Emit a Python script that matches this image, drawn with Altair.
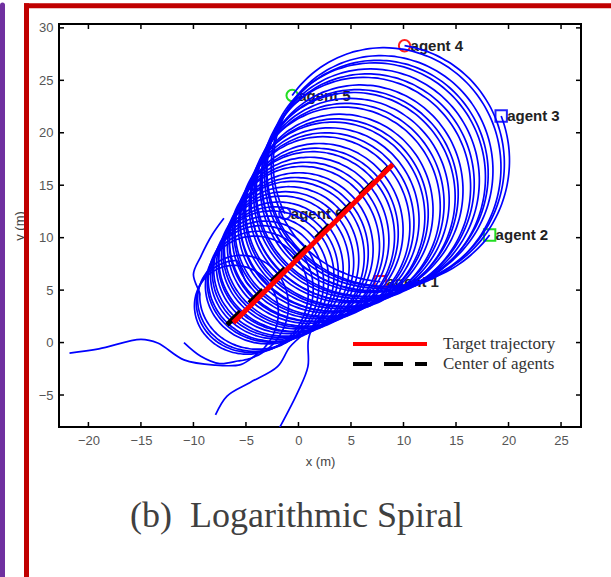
import altair as alt
import numpy as np
import pandas as pd

# ---------------- values ----------------
x_ticks = [-20, -15, -10, -5, 0, 5, 10, 15, 20, 25]
y_ticks = [-5, 0, 5, 10, 15, 20, 25, 30]
x_domain = [-22.8, 26.9]
y_domain = [-8.05, 30.37]

# target trajectory and centre of agents (straight segments)
target_x = [-6.2, 9.0]
target_y = [1.9, 17.0]
centre_x = [-6.8, 8.6]
centre_y = [1.7, 16.7]
series_names = ["Target trajectory", "Center of agents"]

# agents' final positions (markers)
agent_names = ["agent 1", "agent 2", "agent 3", "agent 4", "agent 5", "agent 6"]
agent_x = [7.8, 18.2, 19.3, 10.1, -0.6, -1.3]
agent_y = [5.8, 10.25, 21.6, 28.3, 23.55, 12.3]
agent_shape = ["square", "square", "square", "circle", "circle", "circle"]
agent_colour = ["#ff2020", "#22dd22", "#2222ff", "#ff2020", "#22dd22", "#2222ff"]

# formation (circle) centre at start / end, start radius, revolutions
formation_start = [-6.7, 1.9]
formation_end = [8.9, 17.0]
radius_start = 4.0
revolutions = 8

# transient paths (way-points)
path_x = [
    [-21.8, -19.0, -15.0, -13.4, -10.9, -8.0, -5.5],
    [-7.9, -6.8, -4.6, -2.0, -0.8],
    [-1.9, -0.1, 0.9, 0.95],
    [-7.1, -8.2, -9.3, -10.0],
    [-10.9, -9.3, -7.5],
    [-4.5, -5.0],
]
path_y = [
    [-1.0, -0.6, 0.3, -0.05, -1.65, -2.15, -2.1],
    [-6.9, -5.1, -3.8, -2.3, -0.4],
    [-8.3, -4.8, -2.3, 0.3],
    [11.85, 10.3, 8.2, 6.5],
    [0.0, -1.3, -2.0],
    [5.2, 5.8],
]

# ---------------- build trajectories ----------------
rows = []
t = np.linspace(0.0, 1.0, revolutions * 110 + 1)
for k in range(len(agent_names)):
    ex, ey = formation_end
    sx, sy = formation_start
    dx, dy = agent_x[k] - ex, agent_y[k] - ey
    r_end = np.hypot(dx, dy)
    th_end = np.arctan2(dy, dx)
    cx = sx + (ex - sx) * t
    cy = sy + (ey - sy) * t
    rr = radius_start + (r_end - radius_start) * t
    ang = th_end - 2 * np.pi * revolutions * (1 - t)
    ox = cx + rr * np.cos(ang)
    oy = cy + rr * np.sin(ang)
    px, py = path_x[k], path_y[k]
    lim = int(len(t) * 0.25)
    vx, vy = px[-1] - px[-2], py[-1] - py[-2]
    tx, ty = np.gradient(ox), np.gradient(oy)
    d = np.hypot(ox[:lim] - px[-1], oy[:lim] - py[-1])
    ok = (tx[:lim] * vx + ty[:lim] * vy) > 0
    d = np.where(ok, d, 1e9)
    j = int(np.argmin(d)) + 6
    xs = list(px) + list(ox[j:])
    ys = list(py) + list(oy[j:])
    for i, (a, b) in enumerate(zip(xs, ys)):
        rows.append({"agent": agent_names[k], "i": i, "x": a, "y": b})
traj = pd.DataFrame(rows)

lines_df = pd.DataFrame({
    "series": [series_names[0]] * 2 + [series_names[1]] * 2,
    "x": target_x + centre_x,
    "y": target_y + centre_y,
})
agents_df = pd.DataFrame({"agent": agent_names, "x": agent_x, "y": agent_y,
                          "shape": agent_shape, "colour": agent_colour})
xt_df = pd.DataFrame({"v": x_ticks})
yt_df = pd.DataFrame({"v": y_ticks})
one = pd.DataFrame({"a": [0]})

W, H = 522, 403
xs_ = alt.Scale(domain=x_domain, nice=False, zero=False)
ys_ = alt.Scale(domain=y_domain, nice=False, zero=False)

x_axis = alt.Axis(values=x_ticks, title="x (m)", labelFont="Liberation Sans",
                  labelFontSize=13, labelColor="#555555", labelPadding=7,
                  titleFont="Liberation Sans", titleFontSize=13,
                  titleFontWeight="normal", titleColor="#444444", titlePadding=8,
                  ticks=False, domain=False, grid=False)
y_axis = alt.Axis(values=y_ticks, title="y (m)", labelFont="Liberation Sans",
                  labelFontSize=13, labelColor="#555555", labelPadding=6,
                  titleFont="Liberation Sans", titleFontSize=13,
                  titleFontWeight="normal", titleColor="#444444",
                  titleX=-40, titleY=H / 2, titleAngle=270, titleAlign="center",
                  titleBaseline="middle",
                  ticks=False, domain=False, grid=False)

markers = alt.Chart(agents_df).mark_point(filled=False, strokeWidth=2, size=130, opacity=1).encode(
    x=alt.X("x:Q", scale=xs_, axis=x_axis),
    y=alt.Y("y:Q", scale=ys_, axis=y_axis),
    shape=alt.Shape("shape:N", scale=None),
    stroke=alt.Stroke("colour:N", scale=None),
)
labels = alt.Chart(agents_df).mark_text(
    align="left", baseline="middle", dx=6, font="Liberation Sans",
    fontSize=15, fontWeight="bold", color="#222222"
).encode(x="x:Q", y="y:Q", text="agent:N")

spirals = alt.Chart(traj).mark_line(color="#0000ff", strokeWidth=1.7, clip=True,
                                    interpolate="catmull-rom").encode(
    x="x:Q", y="y:Q", detail="agent:N", order="i:Q")

black = alt.Chart(lines_df).transform_filter(
    alt.datum.series == series_names[1]).mark_line(
    strokeWidth=5, color="#000000", strokeDash=[19, 12]).encode(x="x:Q", y="y:Q")
red = alt.Chart(lines_df).transform_filter(
    alt.datum.series == series_names[0]).mark_line(
    strokeWidth=5, color="#ff0000").encode(x="x:Q", y="y:Q")

# legend (drawn inside the plot box, no frame)
leg_red = alt.Chart(one).mark_rule(color="#ff0000", strokeWidth=4).encode(
    x=alt.value(294), x2=alt.value(368), y=alt.value(320))
leg_black = alt.Chart(one).mark_rule(color="#000000", strokeWidth=4, strokeDash=[19, 12]).encode(
    x=alt.value(294), x2=alt.value(368), y=alt.value(340))
leg_txt1 = alt.Chart(one).mark_text(
    text=series_names[0], font="Liberation Serif", fontSize=17, color="#333333",
    align="left", baseline="middle").encode(x=alt.value(384), y=alt.value(320))
leg_txt2 = alt.Chart(one).mark_text(
    text=series_names[1], font="Liberation Serif", fontSize=17, color="#333333",
    align="left", baseline="middle").encode(x=alt.value(384), y=alt.value(340))

tk = dict(color="black", strokeWidth=1.5)
tb = alt.Chart(xt_df).mark_rule(**tk).encode(x="v:Q", y=alt.value(H), y2=alt.value(H - 5))
tt = alt.Chart(xt_df).mark_rule(**tk).encode(x="v:Q", y=alt.value(0), y2=alt.value(5))
tl = alt.Chart(yt_df).mark_rule(**tk).encode(y="v:Q", x=alt.value(0), x2=alt.value(5))
tr = alt.Chart(yt_df).mark_rule(**tk).encode(y="v:Q", x=alt.value(W), x2=alt.value(W - 5))

caption = alt.Chart(one).mark_text(
    text="(b)\u00a0\u00a0Logarithmic Spiral", font="Liberation Serif", fontSize=36,
    color="#404040", align="center", baseline="alphabetic"
).encode(x=alt.value(237.5), y=alt.value(503))

purple = alt.Chart(one).mark_rule(color="#7030a0", strokeWidth=5, strokeCap="round").encode(
    x=alt.value(-56.5), y=alt.value(-19), y2=alt.value(560))
red_l = alt.Chart(one).mark_rule(color="#c00000", strokeWidth=5).encode(
    x=alt.value(-32.5), y=alt.value(-20.7), y2=alt.value(560))
red_t = alt.Chart(one).mark_rule(color="#c00000", strokeWidth=5).encode(
    y=alt.value(-18.2), x=alt.value(-35), x2=alt.value(560))

chart = alt.layer(
    markers, labels, spirals, black, red, leg_red, leg_black, leg_txt1, leg_txt2,
    tb, tt, tl, tr, caption, purple, red_l, red_t
).properties(
    width=W, height=H,
    autosize=alt.AutoSizeParams(type="none"),
    padding={"left": 59, "top": 24, "right": 30, "bottom": 150},
    background="white",
).configure_view(stroke="black", strokeWidth=2)

chart.save("out.html", embed_options={"renderer": "svg", "actions": False})
